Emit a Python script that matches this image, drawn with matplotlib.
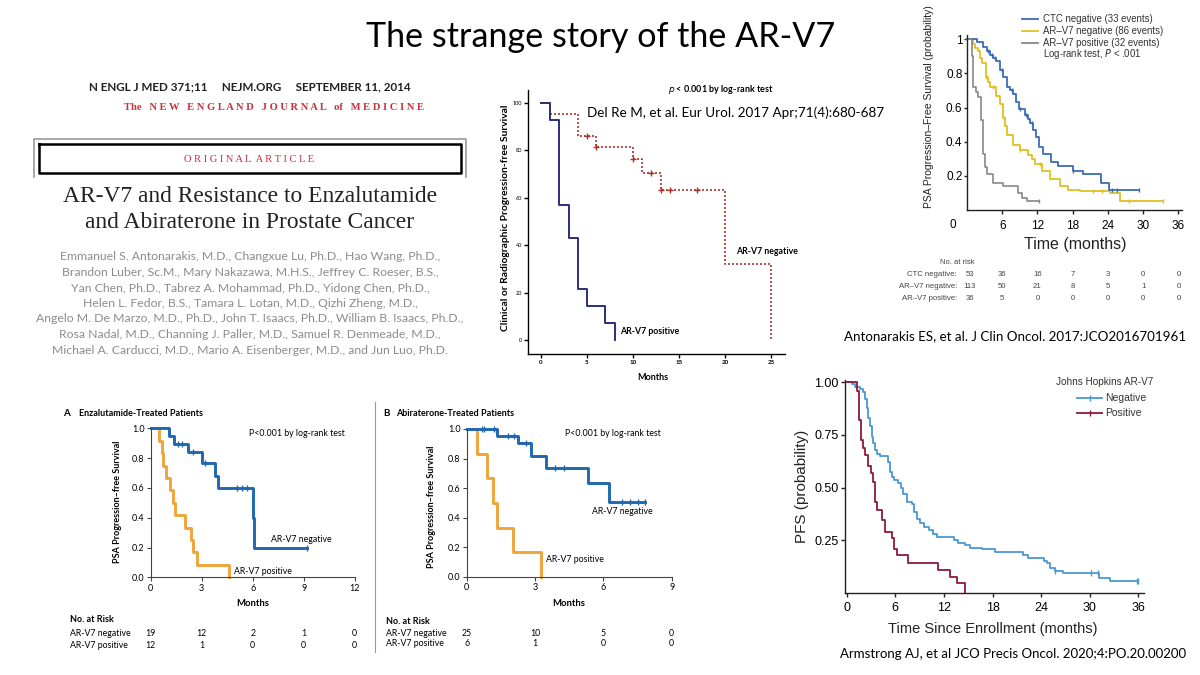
import numpy as np
import matplotlib
matplotlib.use('Agg')
import matplotlib.pyplot as plt
import matplotlib.transforms as mtrans

plt.rcParams['font.family'] = ['Lato', 'DejaVu Sans']

# ---- data: NEJM 2014, panel A (enzalutamide)
enz_neg_t = [0, 1.05, 1.37, 2.2, 3.0, 3.78, 3.98, 6.02, 6.06, 9.2]
enz_neg_s = [1.0, 0.947, 0.895, 0.838, 0.765, 0.68, 0.60, 0.40, 0.20, 0.20]
enz_neg_cens = [1.63, 1.82, 2.47, 3.2, 5.06, 5.35, 5.65, 9.2]
enz_pos_t = [0, 0.5, 0.65, 0.75, 0.9, 1.15, 1.3, 1.45, 2.0, 2.35, 2.5, 2.7, 4.6]
enz_pos_s = [1.0, 0.917, 0.833, 0.75, 0.667, 0.583, 0.5, 0.417, 0.333, 0.25, 0.167, 0.083, 0.0]
enz_months = [0, 3, 6, 9, 12]
enz_risk_neg = [19, 12, 2, 1, 0]
enz_risk_pos = [12, 1, 0, 0, 0]

# ---- panel B (abiraterone)
abi_neg_t = [0, 1.32, 2.27, 2.83, 3.47, 5.34, 6.24, 7.83]
abi_neg_s = [1.0, 0.955, 0.903, 0.82, 0.734, 0.632, 0.508, 0.508]
abi_neg_cens = [0.66, 0.75, 1.2, 1.83, 2.08, 2.6, 3.88, 4.25, 6.8, 7.17, 7.54, 7.83]
abi_pos_t = [0, 0.47, 0.9, 1.17, 1.32, 2.05, 3.25]
abi_pos_s = [1.0, 0.833, 0.667, 0.5, 0.333, 0.167, 0.0]
abi_months = [0, 3, 6, 9]
abi_risk_neg = [25, 10, 5, 0]
abi_risk_pos = [6, 1, 0, 0]

# ---- Del Re 2017
delre_pos_t = [0, 1, 2, 3, 4, 5, 7, 8]
delre_pos_s = [100, 93, 57, 43, 21.5, 14.3, 7.1, 0]
delre_neg_t = [0, 1, 4, 6, 10, 11, 13, 20, 25]
delre_neg_s = [100, 95.5, 86, 81.5, 76.5, 70.5, 63.5, 32, 0]
delre_neg_cens = [5, 6, 10, 12, 13, 14, 17]

# ---- Antonarakis 2017
ant_ctc_t = [0, 1.7, 2.8, 3.4, 3.9, 4.5, 5.0, 5.6, 6.2, 6.8, 7.3, 7.9, 8.4, 8.8, 9.9, 10.3, 10.8,
             11.2, 11.7, 12.3, 12.9, 14.3, 15.5, 18.0, 19.7, 22.8, 24.2, 29.3]
ant_ctc_s = [1.0, 0.985, 0.955, 0.93, 0.91, 0.89, 0.87, 0.82, 0.78, 0.72, 0.70, 0.68, 0.63, 0.59, 0.555,
             0.535, 0.51, 0.47, 0.43, 0.37, 0.33, 0.28, 0.26, 0.23, 0.21, 0.16, 0.12, 0.12]
ant_ctc_cens = [3.5, 4.2, 4.8, 6.0, 7.6, 9.0, 10.0, 11.0, 18.0, 24.6, 25.5, 29.3]
ant_neg_t = [0, 1.0, 1.4, 1.8, 2.2, 2.6, 3.2, 3.6, 4.0, 4.9, 5.7, 6.2, 6.5, 6.8, 7.9, 9.0, 10.4,
             11.0, 11.6, 12.7, 14.1, 15.8, 17.2, 19.2, 24.3, 26.0, 33.3]
ant_neg_s = [1.0, 0.97, 0.95, 0.93, 0.89, 0.86, 0.78, 0.75, 0.72, 0.67, 0.62, 0.54, 0.49, 0.44, 0.38,
             0.35, 0.32, 0.30, 0.27, 0.23, 0.18, 0.14, 0.12, 0.11, 0.10, 0.05, 0.05]
ant_neg_cens = [3.3, 4.5, 6.3, 9.0, 12.5, 21.5, 23.0, 27.5, 33.3]
ant_pos_t = [0, 0.8, 1.1, 1.5, 1.9, 2.3, 2.8, 3.1, 3.4, 4.5, 6.2, 8.7, 9.3, 10.2, 12.2]
ant_pos_s = [1.0, 0.9, 0.72, 0.69, 0.66, 0.53, 0.33, 0.25, 0.21, 0.16, 0.14, 0.10, 0.07, 0.05, 0.05]
ant_pos_cens = [12.2]
ant_months = [0, 6, 12, 18, 24, 30, 36]
ant_risk_rows = ['CTC negative:', 'AR\u2013V7 negative:', 'AR\u2013V7 positive:']
ant_risk_ctc = [53, 36, 16, 7, 3, 0, 0]
ant_risk_neg = [113, 50, 21, 8, 5, 1, 0]
ant_risk_pos = [36, 5, 0, 0, 0, 0, 0]

# ---- Armstrong 2020
arm_neg_t = [0, 0.6, 1.0, 1.65, 2.06, 2.26, 2.5, 2.67, 2.9, 3.1, 3.3, 3.5, 3.8, 4.1, 5.1, 5.35, 5.6,
             5.9, 6.3, 6.7, 7.0, 7.5, 8.0, 8.3, 8.7, 9.1, 9.6, 10.2, 10.6, 11.1, 13.2, 13.8, 14.6,
             15.2, 16.7, 18.3, 21.8, 22.4, 24.3, 24.7, 25.1, 25.7, 26.7, 31.1, 32.5, 36.0]
arm_neg_s = [1.0, 0.99, 0.98, 0.97, 0.955, 0.92, 0.876, 0.83, 0.79, 0.74, 0.71, 0.68, 0.66, 0.65,
             0.62, 0.575, 0.55, 0.535, 0.52, 0.50, 0.47, 0.43, 0.42, 0.385, 0.35, 0.33, 0.314, 0.30,
             0.28, 0.265, 0.25, 0.235, 0.227, 0.214, 0.208, 0.195, 0.18, 0.165, 0.15, 0.14, 0.116,
             0.103, 0.092, 0.068, 0.055, 0.055]
arm_neg_cens = [25.7, 30.2, 31.0, 35.8, 36.0]
arm_pos_t = [0, 1.3, 1.55, 1.8, 2.0, 2.3, 2.6, 3.0, 3.3, 3.5, 3.8, 4.4, 4.7, 5.6, 5.8, 6.2, 7.6,
             11.3, 12.8, 13.6, 14.6]
arm_pos_s = [1.0, 0.96, 0.82, 0.725, 0.686, 0.655, 0.60, 0.567, 0.528, 0.432, 0.393, 0.345, 0.29,
             0.258, 0.21, 0.179, 0.142, 0.107, 0.076, 0.044, 0.0]

authors = [
    'Emmanuel S. Antonarakis, M.D., Changxue Lu, Ph.D., Hao Wang, Ph.D.,',
    'Brandon Luber, Sc.M., Mary Nakazawa, M.H.S., Jeffrey C. Roeser, B.S.,',
    'Yan Chen, Ph.D., Tabrez A. Mohammad, Ph.D., Yidong Chen, Ph.D.,',
    'Helen L. Fedor, B.S., Tamara L. Lotan, M.D., Qizhi Zheng, M.D.,',
    'Angelo M. De Marzo, M.D., Ph.D., John T. Isaacs, Ph.D., William B. Isaacs, Ph.D.,',
    'Rosa Nadal, M.D., Channing J. Paller, M.D., Samuel R. Denmeade, M.D.,',
    'Michael A. Carducci, M.D., Mario A. Eisenberger, M.D., and Jun Luo, Ph.D.',
]

W, H = 1200, 675
fig = plt.figure(figsize=(12, 6.75), dpi=100)
bg = fig.add_axes([0, 0, 1, 1])
bg.set_xlim(0, W)
bg.set_ylim(H, 0)
bg.axis('off')


def box(x0, y0, x1, y1):
    return [x0 / W, 1 - y1 / H, (x1 - x0) / W, (y1 - y0) / H]


def km(ax, t, s, color, lw, ls='-', cens=None, mk='|', ms=4):
    ax.step(t, s, where='post', color=color, lw=lw, ls=ls, clip_on=False)
    if cens:
        cy = [s[np.searchsorted(t, c, side='right') - 1] for c in cens]
        ax.plot(cens, cy, ls='none', marker=mk, color=color, ms=ms, mew=1.0, clip_on=False)


def frame(ax, fs, color='black', lw=0.9):
    ax.patch.set_alpha(0)
    for sp in ['top', 'right']:
        ax.spines[sp].set_visible(False)
    for sp in ['left', 'bottom']:
        ax.spines[sp].set_color(color)
        ax.spines[sp].set_linewidth(lw)
    ax.tick_params(labelsize=fs, length=3, width=lw, color=color, pad=1.5)


# ---- slide title
bg.text(601, 37, 'The strange story of the AR-V7', ha='center', va='center', fontsize=24.6)

# ---- NEJM header block
bg.text(250, 87, 'N ENGL J MED 371;11     NEJM.ORG     SEPTEMBER 11, 2014', ha='center',
        va='center', fontsize=8.4, fontweight='bold', color='#222222')
journal = '   '.join(' '.join(w) for w in 'NEW ENGLAND JOURNAL'.split())
bg.text(274, 107, 'The   ' + journal + '   of   ' + ' '.join('MEDICINE'), ha='center', va='center',
        fontsize=7.6, family='Liberation Serif', color='#c8323c', fontweight='bold')
bg.plot([33.5, 33.5, 465.5, 465.5], [177, 139, 139, 177], color='#999999', lw=1.2)
bg.plot([38.5, 460.5, 460.5, 38.5, 38.5], [144, 144, 172.5, 172.5, 144], color='black', lw=1.8)
bg.text(249, 159, ' '.join('ORIGINAL') + '  ' + ' '.join('ARTICLE'), ha='center', va='center',
        fontsize=7.6, family='Liberation Serif', color='#c8323c')
bg.text(250, 197, 'AR-V7 and Resistance to Enzalutamide', ha='center', va='center',
        fontsize=16.9, family='Liberation Serif', color='#222222')
bg.text(250, 222, 'and Abiraterone in Prostate Cancer', ha='center', va='center',
        fontsize=16.9, family='Liberation Serif', color='#222222')
for i, line in enumerate(authors):
    bg.text(250, 257 + i * 15.5, line, ha='center', va='center', fontsize=8.8, color='#8c8c8c')

# ---- Del Re plot
ax1 = fig.add_axes(box(528, 90, 785, 354))
frame(ax1, 4.5, lw=1.0)
ax1.set_xlim(-1.4, 26.5)
ax1.set_ylim(-5.9, 105.5)
ax1.set_xticks([0, 5, 10, 15, 20, 25])
ax1.set_yticks([0, 20, 40, 60, 80, 100])
ax1.tick_params(axis='y', labelsize=4)
for lab in ax1.get_xticklabels():
    lab.set_fontweight('bold')
km(ax1, delre_neg_t, delre_neg_s, '#a8322a', 1.2, ls=(0, (1.2, 1.2)), cens=delre_neg_cens, mk='+', ms=4)
km(ax1, delre_pos_t, delre_pos_s, '#2c2f78', 1.4)
bg.text(721, 89, '$\\it{p}$ < 0.001 by log-rank test', ha='center', va='center', fontsize=6.5,
        fontweight='bold')
bg.text(736, 113, 'Del Re M, et al. Eur Urol. 2017 Apr;71(4):680-687', ha='center', va='center',
        fontsize=9.7)
bg.text(506, 218, 'Clinical or Radiographic Progression-free Survival', rotation=90, ha='center',
        va='center', fontsize=7.4, fontweight='bold')
bg.text(736, 251, 'AR-V7 negative', ha='left', va='center', fontsize=6.3, fontweight='bold')
bg.text(620, 331, 'AR-V7 positive', ha='left', va='center', fontsize=6.3, fontweight='bold')
bg.text(653, 377, 'Months', ha='center', va='center', fontsize=6.5, fontweight='bold')

# ---- Antonarakis 2017
ax2 = fig.add_axes(box(967, 35, 1182, 210))
frame(ax2, 8.5, color='#222222', lw=1.0)
ax2.set_xlim(0, 36.6)
ax2.set_ylim(0, 1.025)
ax2.set_xticks(ant_months[1:])
ax2.set_yticks([0.2, 0.4, 0.6, 0.8, 1.0])
ax2.set_yticklabels(['0.2', '0.4', '0.6', '0.8', '1'])
ax2.tick_params(axis='x', pad=4)
ax2.tick_params(axis='y', pad=0.8, length=2.5)
for lab in ax2.get_xticklabels() + ax2.get_yticklabels():
    lab.set_family('Liberation Sans')
km(ax2, ant_neg_t, ant_neg_s, '#e0c020', 1.3, cens=ant_neg_cens, ms=3.5)
km(ax2, ant_ctc_t, ant_ctc_s, '#3a6cb4', 1.3, cens=ant_ctc_cens, ms=3.5)
km(ax2, ant_pos_t, ant_pos_s, '#888888', 1.2, cens=ant_pos_cens, ms=3.5)
bg.text(953, 225, '0', ha='center', va='center', fontsize=8.5, family='Liberation Sans')
bg.text(929, 107, 'PSA Progression\u2013Free Survival (probability)', rotation=90, ha='center',
        va='center', fontsize=7.5, family='Liberation Sans', color='#222222')
bg.text(1075, 244, 'Time (months)', ha='center', va='center', fontsize=11.5,
        family='Liberation Sans', color='#222222')
leg_lab = ['CTC negative (33 events)', 'AR\u2013V7 negative (86 events)', 'AR\u2013V7 positive (32 events)']
leg_col = ['#3a6cb4', '#e0c020', '#888888']
for i in range(3):
    y = 19 + i * 11.8
    bg.plot([1022, 1038], [y, y], color=leg_col[i], lw=1.3)
    bg.text(1043, y, leg_lab[i], ha='left', va='center', fontsize=6.9, family='Liberation Sans',
            color='#333333')
bg.text(1043, 54, 'Log-rank test, $\\it{P}$ < .001', ha='left', va='center', fontsize=6.9,
        family='Liberation Sans', color='#333333')
tr2 = mtrans.blended_transform_factory(ax2.transData, bg.transData)
bg.text(940, 263, 'No. at risk', ha='left', va='center', fontsize=5.5, family='Liberation Sans',
        color='#444444')
for r, vals in enumerate([ant_risk_ctc, ant_risk_neg, ant_risk_pos]):
    y = 275 + r * 11.8
    bg.text(957, y, ant_risk_rows[r], ha='right', va='center', fontsize=5.6,
            family='Liberation Sans', color='#444444')
    for m, v in zip(ant_months, vals):
        ax2.text(m + (0.5 if m == 0 else 0), y, str(v), transform=tr2, ha='center', va='center',
                 fontsize=5.6, family='Liberation Sans', color='#444444', clip_on=False)
bg.text(1015, 336, 'Antonarakis ES, et al. J Clin Oncol. 2017:JCO2016701961', ha='center',
        va='center', fontsize=9.6)

# ---- NEJM panel A
blue = '#1f68b0'
orange = '#f0a53a'
axA = fig.add_axes(box(150.7, 428.3, 354.7, 577.3))
frame(axA, 6.5, color='#444444', lw=0.8)
axA.set_xlim(0, 12)
axA.set_ylim(0, 1)
axA.set_xticks(enz_months)
axA.set_yticks([0, 0.2, 0.4, 0.6, 0.8, 1.0])
axA.set_yticklabels(['0.0', '0.2', '0.4', '0.6', '0.8', '1.0'])
km(axA, enz_pos_t, enz_pos_s, orange, 2.1)
km(axA, enz_neg_t, enz_neg_s, blue, 2.1, cens=enz_neg_cens, ms=4.5)
bg.text(63, 413, 'A', ha='left', va='center', fontsize=7, fontweight='bold')
bg.text(79, 413, 'Enzalutamide-Treated Patients', ha='left', va='center', fontsize=6.5,
        fontweight='bold')
bg.text(249, 433, 'P<0.001 by log-rank test', ha='left', va='center', fontsize=6.3)
bg.text(271, 540, 'AR-V7 negative', ha='left', va='center', fontsize=6.3)
bg.text(234, 572, 'AR-V7 positive', ha='left', va='center', fontsize=6.3)
bg.text(253, 603, 'Months', ha='center', va='center', fontsize=6.8, fontweight='bold')
bg.text(117, 502, 'PSA Progression\u2013free Survival', rotation=90, ha='center', va='center',
        fontsize=6.5, fontweight='bold')
trA = mtrans.blended_transform_factory(axA.transData, bg.transData)
bg.text(70, 620, 'No. at Risk', ha='left', va='center', fontsize=6.5, fontweight='bold')
bg.text(70, 633, 'AR-V7 negative', ha='left', va='center', fontsize=6.3)
bg.text(70, 645, 'AR-V7 positive', ha='left', va='center', fontsize=6.3)
for m, a, b in zip(enz_months, enz_risk_neg, enz_risk_pos):
    axA.text(m, 633, str(a), transform=trA, ha='center', va='center', fontsize=6.3, clip_on=False)
    axA.text(m, 645, str(b), transform=trA, ha='center', va='center', fontsize=6.3, clip_on=False)

bg.plot([375, 375], [402, 652], color='#999999', lw=0.8)

# ---- NEJM panel B
axB = fig.add_axes(box(466.7, 429, 671.7, 576.7))
frame(axB, 6.5, color='#444444', lw=0.8)
axB.set_xlim(0, 9)
axB.set_ylim(0, 1)
axB.set_xticks(abi_months)
axB.set_yticks([0, 0.2, 0.4, 0.6, 0.8, 1.0])
axB.set_yticklabels(['0.0', '0.2', '0.4', '0.6', '0.8', '1.0'])
km(axB, abi_pos_t, abi_pos_s, orange, 2.1)
km(axB, abi_neg_t, abi_neg_s, blue, 2.1, cens=abi_neg_cens, ms=4.5)
bg.text(383, 414, 'B', ha='left', va='center', fontsize=7, fontweight='bold')
bg.text(396, 414, 'Abiraterone-Treated Patients', ha='left', va='center', fontsize=6.5,
        fontweight='bold')
bg.text(565, 433, 'P<0.001 by log-rank test', ha='left', va='center', fontsize=6.3)
bg.text(592, 512, 'AR-V7 negative', ha='left', va='center', fontsize=6.3)
bg.text(546, 559, 'AR-V7 positive', ha='left', va='center', fontsize=6.3)
bg.text(569, 603, 'Months', ha='center', va='center', fontsize=6.8, fontweight='bold')
bg.text(432, 507, 'PSA Progression\u2013free Survival', rotation=90, ha='center', va='center',
        fontsize=6.5, fontweight='bold')
trB = mtrans.blended_transform_factory(axB.transData, bg.transData)
bg.text(386, 621, 'No. at Risk', ha='left', va='center', fontsize=6.5, fontweight='bold')
bg.text(386, 633, 'AR-V7 negative', ha='left', va='center', fontsize=6.3)
bg.text(386, 643, 'AR-V7 positive', ha='left', va='center', fontsize=6.3)
for m, a, b in zip(abi_months, abi_risk_neg, abi_risk_pos):
    axB.text(m, 633, str(a), transform=trB, ha='center', va='center', fontsize=6.3, clip_on=False)
    axB.text(m, 643, str(b), transform=trB, ha='center', va='center', fontsize=6.3, clip_on=False)

# ---- Armstrong 2020
arm_blue = '#4a98d6'
arm_red = '#8b1a3c'
ax3 = fig.add_axes(box(845, 380, 1144, 592.7))
frame(ax3, 9, color='#222222', lw=1.0)
ax3.set_xlim(-0.21, 36.7)
ax3.set_ylim(0, 1.011)
ax3.set_xticks([0, 6, 12, 18, 24, 30, 36])
ax3.set_yticks([0.25, 0.5, 0.75, 1.0])
ax3.set_yticklabels(['0.25', '0.50', '0.75', '1.00'])
ax3.tick_params(axis='x', pad=4)
for lab in ax3.get_xticklabels() + ax3.get_yticklabels():
    lab.set_family('Liberation Sans')
km(ax3, arm_neg_t, arm_neg_s, arm_blue, 1.3, cens=arm_neg_cens, ms=4)
km(ax3, arm_pos_t, arm_pos_s, arm_red, 1.3)
bg.text(802, 486, 'PFS (probability)', rotation=90, ha='center', va='center', fontsize=11,
        family='Liberation Sans', color='#222222')
bg.text(993, 629, 'Time Since Enrollment (months)', ha='center', va='center', fontsize=10.5,
        family='Liberation Sans', color='#222222')
bg.text(1105, 382, 'Johns Hopkins AR-V7', ha='center', va='center', fontsize=7.2,
        family='Liberation Sans', color='#333333')
for i, (lab, col) in enumerate([('Negative', arm_blue), ('Positive', arm_red)]):
    y = 398 + i * 15
    bg.plot([1077, 1102], [y, y], color=col, lw=1.3)
    bg.plot([1089.5], [y], marker='|', color=col, ms=4, mew=1.0)
    bg.text(1105, y, lab, ha='left', va='center', fontsize=7.5, family='Liberation Sans',
            color='#333333')
bg.text(1013, 654, 'Armstrong AJ, et al JCO Precis Oncol. 2020;4:PO.20.00200', ha='center',
        va='center', fontsize=9.5)

fig.savefig('out.png', dpi=100)
